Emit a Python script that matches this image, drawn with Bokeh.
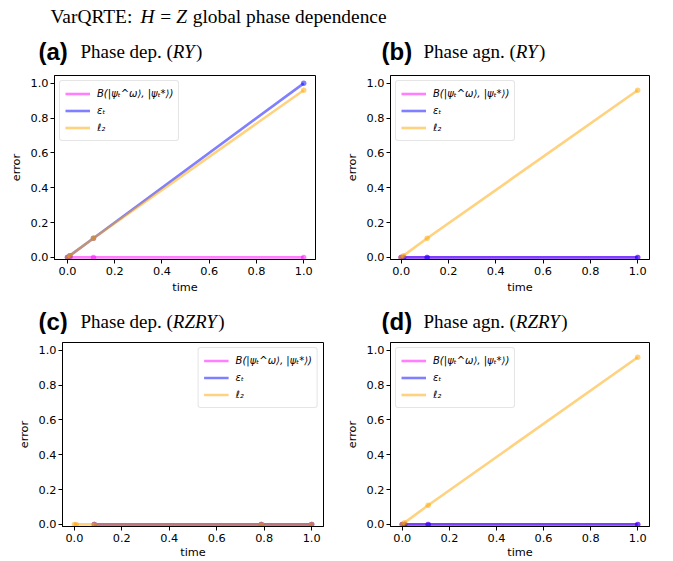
from bokeh.plotting import figure
from bokeh.layouts import column, row
from bokeh.models import Range1d, FixedTicker, NumeralTickFormatter, Legend, LegendItem, Label
from bokeh.embed import file_html
from bokeh.resources import INLINE

# ---------------- data ----------------
series_labels = ["B(|ψₜ^ω⟩, |ψₜ*⟩)", "εₜ", "ℓ₂"]
series_colors = ["#ff00ff", "#0000ff", "#ffa500"]

time_a = [0.0, 0.01, 0.11, 1.0]
B_a = [0.0, 0.0, 0.0, 0.0]
eps_a = [0.0, 0.01, 0.11, 1.0]
l2_a = [0.0, 0.01, 0.11, 0.96]

time_b = [0.0, 0.01, 0.11, 1.0]
B_b = [0.0, 0.0, 0.0, 0.0]
eps_b = [0.0, 0.0, 0.0, 0.0]
l2_b = [0.0, 0.01, 0.11, 0.96]

time_c_short = [0.084, 0.788, 1.0]
time_c_long = [0.0, 0.008, 0.084, 0.788, 1.0]
B_c = [0.0, 0.0, 0.0]
eps_c = [0.0, 0.0, 0.0]
l2_c = [0.0, 0.0, 0.0, 0.0, 0.0]

time_d = [0.0, 0.01, 0.11, 1.0]
B_d = [0.0, 0.0, 0.0, 0.0]
eps_d = [0.0, 0.0, 0.0, 0.0]
l2_d = [0.0, 0.01, 0.11, 0.96]

tick_values = [0.0, 0.2, 0.4, 0.6, 0.8, 1.0]

main_title = [("VarQRTE: ", "normal"), ("H", "italic"), (" = ", "normal"),
              ("Z", "italic"), (" global phase dependence", "normal")]
panel_titles = [
    ("(a)", [("Phase dep. (", "normal"), ("RY", "italic"), (")", "normal")]),
    ("(b)", [("Phase agn. (", "normal"), ("RY", "italic"), (")", "normal")]),
    ("(c)", [("Phase dep. (", "normal"), ("RZRY", "italic"), (")", "normal")]),
    ("(d)", [("Phase agn. (", "normal"), ("RZRY", "italic"), (")", "normal")]),
]

# approximate Times-like advance widths (per 1000 em) to lay out title pieces
W_ROMAN = {"V": 722, "a": 444, "r": 333, "Q": 722, "R": 667, "T": 611, "E": 611,
           ":": 278, " ": 250, "=": 564, "g": 500, "l": 278, "o": 500, "b": 500,
           "p": 500, "h": 500, "s": 389, "e": 444, "d": 500, "n": 500, "c": 444,
           "P": 556, ".": 250, "(": 333, ")": 333}
W_ITALIC = {"H": 722, "Z": 556, "R": 611, "Y": 556}


def tw(s, style, size):
    tab = W_ITALIC if style == "italic" else W_ROMAN
    return sum(tab.get(ch, 500) for ch in s) * size / 1000.0


SERIF = "Liberation Serif"
SANS = "DejaVu Sans"


def strip(height, pieces):
    s = figure(width=673, height=height, x_range=Range1d(0, 673), y_range=Range1d(height, 0),
               output_backend="svg", toolbar_location=None,
               x_axis_location=None, y_axis_location=None, min_border=0,
               outline_line_color=None)
    s.grid.visible = False
    for txt, x, y, font, size, style in pieces:
        s.add_layout(Label(x=x, y=y, text=txt, text_font=font, text_font_size=size,
                           text_font_style=style, text_baseline="alphabetic",
                           text_align="left", text_color="black"))
    return s


def serif_run(parts, x0, y, size):
    out = []
    x = x0
    for txt, style in parts:
        lead = len(txt) - len(txt.lstrip(" "))
        out.append((txt.strip(" "), x + lead * 250 * size / 1000.0, y, SERIF, "%.1fpx" % size, style))
        x += tw(txt, style, size) + (1.0 if style == "italic" else 0.0)
    return out


# top strip: main title + (a)/(b) titles
top_pieces = serif_run(main_title, 50, 16, 19.4)
for (lab, parts), x0 in zip(panel_titles[:2], [38, 381]):
    top_pieces.append((lab, x0, 51, "Liberation Sans", "24px", "bold"))
    top_pieces += serif_run(parts, x0 + 42, 51, 19.0)
strip_top = strip(65, top_pieces)

mid_pieces = []
for (lab, parts), x0 in zip(panel_titles[2:], [38, 381]):
    mid_pieces.append((lab, x0, 19, "Liberation Sans", "24px", "bold"))
    mid_pieces += serif_run(parts, x0 + 42, 19, 19.0)
strip_mid = strip(32, mid_pieces)


def panel(series, width, height, bl, br, bt, bb, xr, legend_loc, xlab_standoff):
    p = figure(width=width, height=height, x_range=Range1d(*xr), y_range=Range1d(-0.012, 1.045),
               output_backend="svg", toolbar_location=None,
               min_border_left=bl, min_border_right=br, min_border_top=bt, min_border_bottom=bb)
    p.grid.visible = False
    p.outline_line_color = "black"
    p.outline_line_alpha = 1.0
    p.outline_line_width = 1
    items = []
    for (t, y), lbl, col in zip(series, series_labels, series_colors):
        r = p.line(t, y, line_color=col, line_width=2.6, line_alpha=0.5)
        p.scatter(t, y, size=5.5, fill_color=col, fill_alpha=0.5, line_color=None)
        items.append(LegendItem(label=lbl, renderers=[r]))
    for ax in (p.xaxis[0], p.yaxis[0]):
        ax.ticker = FixedTicker(ticks=tick_values)
        ax.formatter = NumeralTickFormatter(format="0.0")
        ax.major_label_text_font = SANS
        ax.major_label_text_font_size = "11.3px"
        ax.major_label_text_color = "black"
        ax.axis_label_text_font = SANS
        ax.axis_label_text_font_size = "11.3px"
        ax.axis_label_text_font_style = "normal"
        ax.axis_label_text_color = "black"
        ax.major_tick_out = 4
        ax.major_tick_in = 0
        ax.minor_tick_line_color = None
        ax.axis_line_color = "black"
        ax.major_tick_line_color = "black"
    p.xaxis.major_label_standoff = 3
    p.yaxis.major_label_standoff = 2
    p.xaxis.axis_label = "time"
    p.yaxis.axis_label = "error"
    p.xaxis.axis_label_standoff = xlab_standoff
    p.yaxis.axis_label_standoff = 5
    leg = Legend(items=items, location=legend_loc, margin=5, padding=5, spacing=2,
                 glyph_width=25, glyph_height=15, label_height=15, label_standoff=7,
                 label_text_font=SANS, label_text_font_size="10px",
                 label_text_font_style="italic", label_text_color="black",
                 border_line_color="#cccccc", border_line_width=1, border_radius=3,
                 background_fill_color="white", background_fill_alpha=0.8)
    p.add_layout(leg)
    return p


pa = panel([(time_a, B_a), (time_a, eps_a), (time_a, l2_a)], 336, 237, 54, 21, 10, 43,
           (-0.055, 1.05), "top_left", 3)
pb = panel([(time_b, B_b), (time_b, eps_b), (time_b, l2_b)], 337, 237, 54, 24, 10, 43,
           (-0.045, 1.05), "top_left", 3)
pc = panel([(time_c_short, B_c), (time_c_short, eps_c), (time_c_long, l2_c)], 336, 227, 62, 13, 8, 34,
           (-0.05, 1.05), "top_right", 1)
pd = panel([(time_d, B_d), (time_d, eps_d), (time_d, l2_d)], 337, 227, 54, 24, 8, 34,
           (-0.05, 1.05), "top_left", 1)

layout = column(strip_top, row(pa, pb), strip_mid, row(pc, pd))

open("out.html", "w").write(file_html(layout, INLINE))
